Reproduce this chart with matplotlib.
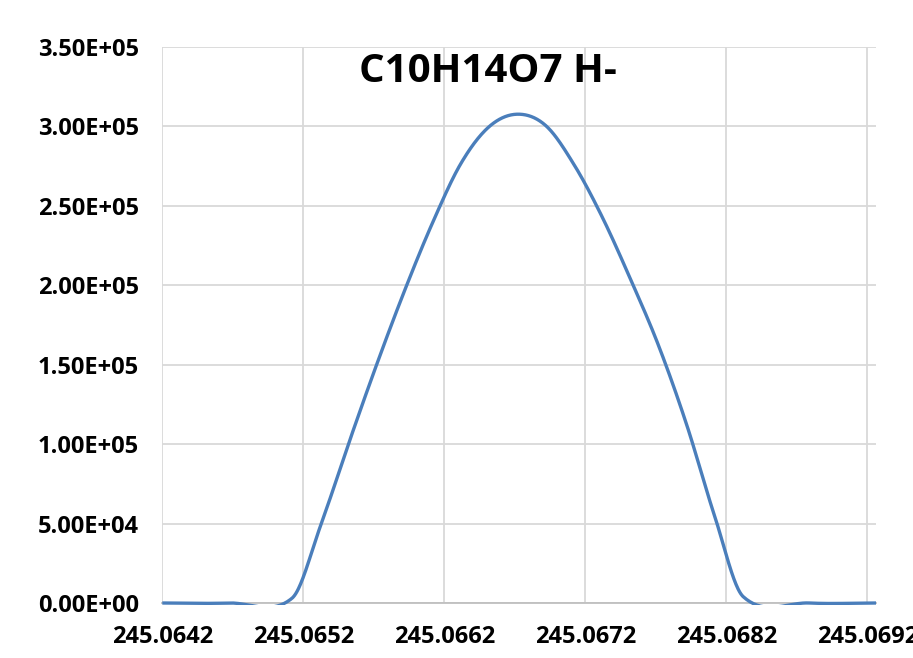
import matplotlib
matplotlib.use("Agg")
import matplotlib.pyplot as plt
from matplotlib.patches import Rectangle
import numpy as np

# profile points (m/z, intensity)
mz = [245.0642, 245.06467, 245.06512, 245.06532, 245.06552, 245.06572,
      245.06592, 245.06612, 245.06632, 245.06652, 245.06672, 245.06692,
      245.06712, 245.06732, 245.06752, 245.06772, 245.06792, 245.06812,
      245.06832, 245.06879, 245.069262]
intensity = [0, 0, 3000, 4.8e4, 1.0e5, 1.5e5,
             1.97e5, 2.40e5, 2.77e5, 3.0e5, 3.077e5, 3.005e5,
             2.76e5, 2.43e5, 2.04e5, 1.62e5, 1.12e5, 5.4e4,
             4000, 0, 0]

title = "C10H14O7 H-"
xticks = [245.0642, 245.0652, 245.0662, 245.0672, 245.0682, 245.0692]
yticks = [0, 5e4, 1e5, 1.5e5, 2e5, 2.5e5, 3e5, 3.5e5]
ylabels = ["0.00E+00", "5.00E+04", "1.00E+05", "1.50E+05",
           "2.00E+05", "2.50E+05", "3.00E+05", "3.50E+05"]

plt.rcParams["font.family"] = ["Open Sans", "DejaVu Sans"]
plt.rcParams["font.weight"] = "bold"


def smooth(x, y, n=40):
    # spreadsheet-style smoothed line: cubic Hermite with Catmull-Rom slopes
    x = np.asarray(x, float) - x[0]
    y = np.asarray(y, float)
    k = np.zeros_like(y)
    k[1:-1] = (y[2:] - y[:-2]) / (x[2:] - x[:-2])
    k[0] = (y[1] - y[0]) / (x[1] - x[0])
    k[-1] = (y[-1] - y[-2]) / (x[-1] - x[-2])
    xs, ys = [], []
    for i in range(len(x) - 1):
        h = x[i + 1] - x[i]
        t = np.linspace(0, 1, n)
        h00 = 2 * t**3 - 3 * t**2 + 1
        h10 = t**3 - 2 * t**2 + t
        h01 = -2 * t**3 + 3 * t**2
        h11 = t**3 - t**2
        xs.append(x[i] + t * h)
        ys.append(h00 * y[i] + h10 * h * k[i] + h01 * y[i + 1] + h11 * h * k[i + 1])
    return np.concatenate(xs), np.concatenate(ys)


fig = plt.figure(figsize=(9.13, 6.58), dpi=100)
ax = fig.add_axes([162.3 / 913, 1 - 603 / 658, (876 - 162.3) / 913, (603 - 47) / 658])

sx, sy = smooth(mz, intensity)
line, = ax.plot(sx + mz[0], sy, color="#4a7ebb", linewidth=2.4, solid_capstyle="butt")
# let the baseline show at full width, the dips below zero stay hidden
clip = Rectangle((0, -2 / 556), 1, 1 + 2 / 556, transform=ax.transAxes,
                 facecolor="none", edgecolor="none")
ax.add_patch(clip)
line.set_clip_path(clip)

ax.set_xlim(245.0642, 245.069262)
ax.set_ylim(0, 3.5e5)
ax.set_xticks(xticks)
ax.set_yticks(yticks)
ax.set_xticklabels(["%.4f" % v for v in xticks])
ax.set_yticklabels(ylabels)
ax.grid(True, color="#d9d9d9", linewidth=1.3)
ax.set_axisbelow(True)
for s in ["top", "right", "left"]:
    ax.spines[s].set_visible(False)
ax.spines["bottom"].set_color("#bfbfbf")
ax.spines["bottom"].set_linewidth(1.3)
ax.spines["bottom"].set_zorder(1.5)
ax.tick_params(length=0, labelsize=17)
ax.tick_params(axis="y", pad=17)
ax.tick_params(axis="x", pad=16)

ax.text(0.456, 0.937, title, transform=ax.transAxes, ha="center", va="baseline",
        fontsize=29, fontweight="bold")

fig.savefig("out.png", dpi=100)
